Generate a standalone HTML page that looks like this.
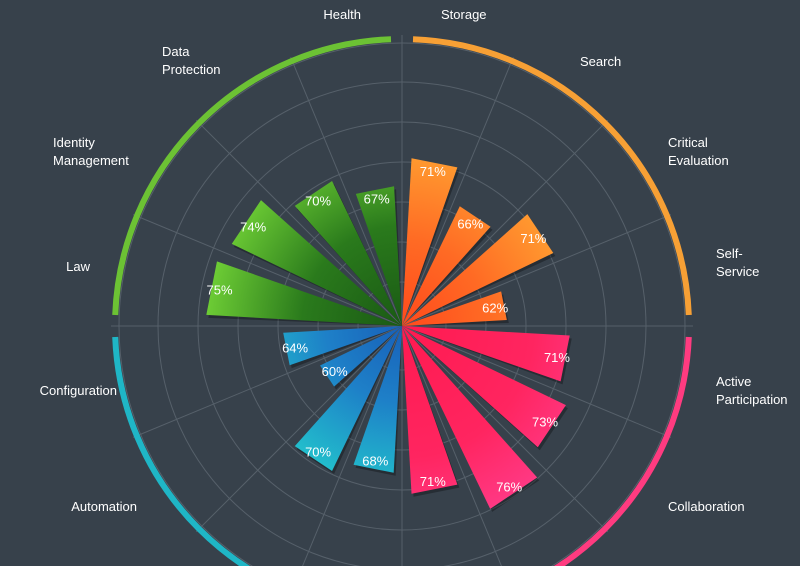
<!DOCTYPE html>
<html><head><meta charset="utf-8"><style>
html,body{margin:0;padding:0;background:#37414b;overflow:hidden;width:800px;height:566px;}
svg{display:block;overflow:hidden;font-family:"Liberation Sans","DejaVu Sans",sans-serif;}
</style></head><body>
<svg id="chart" width="800" height="566" viewBox="0 0 800 566">
<defs>
<radialGradient id="gOrange" gradientUnits="userSpaceOnUse" cx="402" cy="326" r="190"><stop offset="0" stop-color="#ff4a1c"/><stop offset="0.45" stop-color="#ff6a24"/><stop offset="1" stop-color="#ffa532"/></radialGradient>
<radialGradient id="gPink" gradientUnits="userSpaceOnUse" cx="402" cy="326" r="220"><stop offset="0" stop-color="#ff1a50"/><stop offset="0.6" stop-color="#ff2560"/><stop offset="1" stop-color="#ff3d8c"/></radialGradient>
<radialGradient id="gBlue" gradientUnits="userSpaceOnUse" cx="402" cy="326" r="170"><stop offset="0" stop-color="#1860b8"/><stop offset="0.45" stop-color="#1e80c8"/><stop offset="1" stop-color="#22c4cc"/></radialGradient>
<radialGradient id="gGreen" gradientUnits="userSpaceOnUse" cx="402" cy="326" r="200"><stop offset="0" stop-color="#1a5a14"/><stop offset="0.5" stop-color="#2a7a1c"/><stop offset="1" stop-color="#70d036"/></radialGradient>
</defs>
<g id="grid"></g>
<g id="ring"></g>
<g id="bars"></g>
<g id="labels" fill="#ffffff" font-size="13"></g>
</svg>
<script>
const categories = ["Storage","Search","Critical Evaluation","Self-Service","Active Participation","Collaboration","Cat 7","Cat 8","Cat 9","Cat 10","Automation","Configuration","Law","Identity Management","Data Protection","Health"];
const vals = [71,66,71,62,71,73,76,71,68,70,60,64,75,74,70,67];
const groupOf = [0,0,0,0,1,1,1,1,2,2,2,2,3,3,3,3];
const valueMin = 47, valueMax = 88;
</script>
<script>
const NS="http://www.w3.org/2000/svg";
const cx=402, cy=326, R=287;
const fills=["url(#gOrange)","url(#gPink)","url(#gBlue)","url(#gGreen)"];
const ringColors=["#f7a035","#ff3b80","#1fb6c6","#6cc234"];
function rScale(v){return (v-valueMin)/(valueMax-valueMin)*R;}
function pt(r,deg){const a=deg*Math.PI/180;return [cx+r*Math.sin(a), cy-r*Math.cos(a)];}
function mk(tag,attrs,parent){const e=document.createElementNS(NS,tag);for(const k in attrs)e.setAttribute(k,attrs[k]);parent.appendChild(e);return e;}
const grid=document.getElementById('grid');
[44,84,124,164,204,244,283].forEach(r=>{
  const c=mk('circle',{cx:cx,cy:cy,r:r,fill:'none',stroke:'#56606a','stroke-width':1},grid);
  
  
});
const n=categories.length, step=360/n;
for(let i=0;i<n;i++){
  const p=pt(R+4,i*step);
  const l=mk('line',{x1:cx,y1:cy,x2:p[0],y2:p[1],stroke:'#56606a','stroke-width':1},grid);
  
  
}
const ring=document.getElementById('ring');
for(let q=0;q<4;q++){
  const a0=q*90+2.2, a1=q*90+90-2.2;
  const p0=pt(R,a0), p1=pt(R,a1);
  const path=mk('path',{d:`M${p0[0]},${p0[1]} A${R},${R} 0 0 1 ${p1[0]},${p1[1]}`,fill:'none',stroke:ringColors[q],'stroke-width':6},ring);
  
  
}
const bars=document.getElementById('bars');
const half=8;
for(let i=0;i<n;i++){
  const v=vals[i], r=rScale(v), mid=i*step+step/2;
  const a=pt(r,mid-half), b=pt(r,mid+half);
  const sh=mk('polygon',{points:`${cx},${cy} ${a[0]+2},${a[1]+3} ${b[0]+2},${b[1]+3}`,fill:'#000','fill-opacity':0.3},bars);
  
  
  const poly=mk('polygon',{points:`${cx},${cy} ${a[0]},${a[1]} ${b[0]},${b[1]}`,fill:fills[groupOf[i]]},bars);
  
  
  const lp=pt(r-10,mid);
  const t=mk('text',{x:lp[0],y:lp[1]+5,'text-anchor':'middle',fill:'#ffffff','font-size':13},bars);
  
  
  t.textContent=v+'%';
}
const labels=document.getElementById('labels');
const labelDefs=[
 [441,19,'start',["Storage"]],
 [580,66,'start',["Search"]],
 [668,147,'start',["Critical","Evaluation"]],
 [716,258,'start',["Self-","Service"]],
 [716,386,'start',["Active","Participation"]],
 [668,511,'start',["Collaboration"]],
 [137,511,'end',["Automation"]],
 [117,395,'end',["Configuration"]],
 [90,271,'end',["Law"]],
 [53,147,'start',["Identity","Management"]],
 [162,56,'start',["Data","Protection"]],
 [361,19,'end',["Health"]]
];
labelDefs.forEach(d=>{
  const t=mk('text',{x:d[0],y:d[1],'text-anchor':d[2]},labels);
  
  
  d[3].forEach((s,k)=>{const ts=mk('tspan',{x:d[0],dy:k?18:0},t);ts.textContent=s;});
});
</script>
</body></html>
